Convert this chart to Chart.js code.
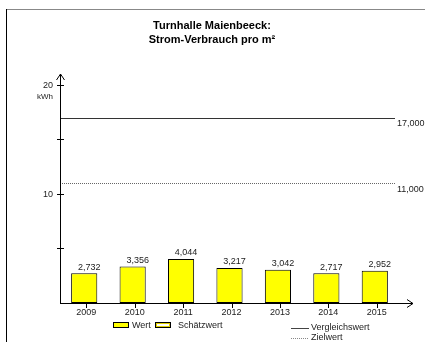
<!DOCTYPE html>
<html>
<head>
<meta charset="utf-8">
<script src="https://cdn.jsdelivr.net/npm/chart.js@4.4.1/dist/chart.umd.min.js"></script>
<style>
  html, body { margin: 0; padding: 0; background: #fff; }
  canvas { display: block; }
</style>
</head>
<body>
<canvas id="chart" width="425" height="342"></canvas>
<script>
const years = ['2009', '2010', '2011', '2012', '2013', '2014', '2015'];
const wert = [2.732, 3.356, 4.044, 3.217, 3.042, 2.717, 2.952];
const vergleichswert = 17;
const zielwert = 11;
const yTicks = [5, 10, 15, 20];
const yLabels = [10, 20];

const FONT = '"Liberation Sans", Arial, sans-serif';

function fmt(v) {
  return v.toFixed(3).replace('.', ',');
}

// everything around the bars is drawn by hand, positions come from the scales
const decor = {
  id: 'decor',
  afterDatasetsDraw(chart) {
    const ctx = chart.ctx;
    const x = chart.scales.x;
    const y = chart.scales.y;
    const area = chart.chartArea;
    const x0 = area.left;
    const y0 = y.getPixelForValue(0);

    ctx.save();

    // frame
    ctx.lineWidth = 1;
    ctx.strokeStyle = '#888';
    ctx.beginPath();
    ctx.moveTo(7, 9.5);
    ctx.lineTo(425, 9.5);
    ctx.stroke();
    ctx.strokeStyle = '#000';
    ctx.beginPath();
    ctx.moveTo(6.5, 9);
    ctx.lineTo(6.5, 342);
    ctx.stroke();

    // title
    ctx.fillStyle = '#000';
    ctx.font = 'bold 11px ' + FONT;
    ctx.textAlign = 'center';
    ctx.textBaseline = 'middle';
    ctx.fillText('Turnhalle Maienbeeck:', 212, 26);
    ctx.fillText('Strom-Verbrauch pro m²', 212, 40);

    // reference lines
    const rightEnd = area.right - 4;
    const yv = Math.round(y.getPixelForValue(vergleichswert)) + 0.5;
    ctx.strokeStyle = '#333';
    ctx.lineWidth = 1;
    ctx.beginPath();
    ctx.moveTo(x0, yv);
    ctx.lineTo(rightEnd, yv);
    ctx.stroke();

    const yz = Math.round(y.getPixelForValue(zielwert)) + 0.5;
    ctx.strokeStyle = '#666';
    ctx.setLineDash([1, 1]);
    ctx.beginPath();
    ctx.moveTo(x0, yz);
    ctx.lineTo(rightEnd, yz);
    ctx.stroke();
    ctx.setLineDash([]);

    ctx.fillStyle = '#222';
    ctx.font = '9px ' + FONT;
    ctx.textAlign = 'left';
    ctx.fillText(fmt(vergleichswert), rightEnd + 2, yv + 5);
    ctx.fillText(fmt(zielwert), rightEnd + 2, yz + 6);

    // axes with arrows
    ctx.strokeStyle = '#000';
    ctx.lineWidth = 1;
    ctx.beginPath();
    ctx.moveTo(x0 + 0.5, y0);
    ctx.lineTo(x0 + 0.5, area.top);
    ctx.moveTo(x0 - 3.5, area.top + 6);
    ctx.lineTo(x0 + 0.5, area.top);
    ctx.lineTo(x0 + 4.5, area.top + 6);
    ctx.moveTo(x0, y0 + 0.5);
    ctx.lineTo(413, y0 + 0.5);
    ctx.moveTo(407, y0 - 3.5);
    ctx.lineTo(413, y0 + 0.5);
    ctx.lineTo(407, y0 + 4.5);
    ctx.stroke();

    // y ticks
    ctx.beginPath();
    yTicks.forEach(v => {
      const py = Math.round(y.getPixelForValue(v)) + 0.5;
      ctx.moveTo(x0 - 3, py);
      ctx.lineTo(x0 + 4, py);
    });
    ctx.stroke();

    ctx.fillStyle = '#222';
    ctx.font = '9px ' + FONT;
    ctx.textAlign = 'right';
    yLabels.forEach(v => {
      ctx.fillText(String(v), x0 - 7, y.getPixelForValue(v) + 1);
    });
    ctx.font = '8px ' + FONT;
    ctx.fillText('kWh', x0 - 7, y.getPixelForValue(20) + 12);

    // x ticks and labels
    ctx.beginPath();
    years.forEach((yr, i) => {
      const px = Math.round(x.getPixelForValue(i)) + 2.5;
      ctx.moveTo(px, y0);
      ctx.lineTo(px, y0 + 5);
    });
    ctx.stroke();
    ctx.font = '9px ' + FONT;
    ctx.textAlign = 'center';
    years.forEach((yr, i) => {
      ctx.fillText(yr, x.getPixelForValue(i) + 2, y0 + 10);
    });

    // bar value labels
    const meta = chart.getDatasetMeta(0);
    meta.data.forEach((bar, i) => {
      ctx.fillText(fmt(wert[i]), bar.x + 5, bar.y - 6);
    });

    // legend
    const ly = 325;
    ctx.fillStyle = '#ffff00';
    ctx.fillRect(113.5, ly - 2.5, 15, 5);
    ctx.strokeStyle = '#000';
    ctx.strokeRect(113.5, ly - 2.5, 15, 5);
    ctx.fillStyle = '#fff';
    ctx.fillRect(155.5, ly - 2.5, 15, 5);
    ctx.strokeRect(155.5, ly - 2.5, 15, 5);
    ctx.strokeStyle = '#e0d000';
    ctx.strokeRect(156.5, ly - 1.5, 13, 3);

    ctx.strokeStyle = '#444';
    ctx.beginPath();
    ctx.moveTo(291, 328.5);
    ctx.lineTo(309, 328.5);
    ctx.stroke();
    ctx.strokeStyle = '#888';
    ctx.setLineDash([1, 1]);
    ctx.beginPath();
    ctx.moveTo(291, 338.5);
    ctx.lineTo(309, 338.5);
    ctx.stroke();
    ctx.setLineDash([]);

    ctx.fillStyle = '#222';
    ctx.font = '9px ' + FONT;
    ctx.textAlign = 'left';
    ctx.fillText('Wert', 132, ly + 1);
    ctx.fillText('Schätzwert', 178, ly + 1);
    ctx.fillText('Vergleichswert', 311, 328);
    ctx.fillText('Zielwert', 311, 338);

    ctx.restore();
  }
};

new Chart(document.getElementById('chart').getContext('2d'), {
  type: 'bar',
  data: {
    labels: years,
    datasets: [{
      label: 'Wert',
      data: wert,
      backgroundColor: '#ffff00',
      borderColor: '#000',
      borderWidth: 1,
      borderSkipped: false,
      categoryPercentage: 1,
      barPercentage: 0.54
    }]
  },
  options: {
    responsive: false,
    animation: false,
    layout: { padding: { left: 60, right: 26, top: 74, bottom: 39 } },
    plugins: {
      legend: { display: false },
      tooltip: { enabled: false }
    },
    scales: {
      x: { display: false },
      y: { display: false, min: 0, max: 21 }
    }
  },
  plugins: [decor]
});
</script>
</body>
</html>
